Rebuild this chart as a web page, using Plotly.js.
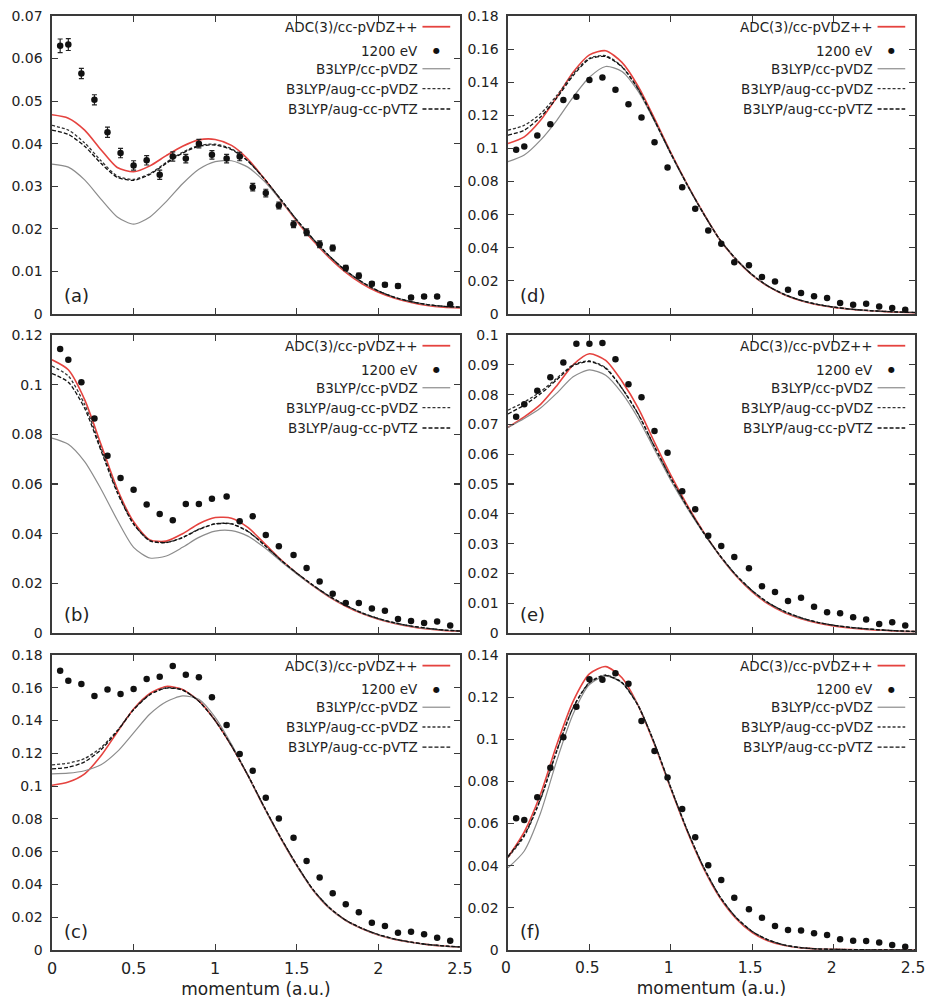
<!DOCTYPE html>
<html>
<head>
<meta charset="utf-8">
<script src="https://cdn.plot.ly/plotly-3.0.1.min.js"></script>
<style>html,body{margin:0;padding:0;background:#fff}#chart{width:927px;height:1001px}</style>
</head>
<body>
<div id="chart"></div>
<script>
// ---- data ----
const momentum = [0.05,0.10,0.18,0.26,0.34,0.42,0.50,0.58,0.66,0.74,0.82,0.90,0.98,1.07,1.15,1.23,1.31,1.39,1.48,1.56,1.64,1.72,1.80,1.88,1.96,2.04,2.12,2.20,2.28,2.36,2.44];
const grid = [0,0.1,0.2,0.3,0.4,0.5,0.6,0.7,0.8,0.9,1.0,1.1,1.2,1.3,1.4,1.5,1.6,1.7,1.8,1.9,2.0,2.1,2.2,2.3,2.4,2.5];
const legendNames = ["ADC(3)/cc-pVDZ++","1200 eV","B3LYP/cc-pVDZ","B3LYP/aug-cc-pVDZ","B3LYP/aug-cc-pVTZ"];
const panelLabels = ["(a)","(b)","(c)","(d)","(e)","(f)"];
const xTicks = [0,0.5,1,1.5,2,2.5];
const xTickText = ["0","0.5","1","1.5","2","2.5"];

// (a)
const expA = [0.0630,0.0633,0.0565,0.0503,0.0427,0.0378,0.0349,0.0361,0.0327,0.0370,0.0365,0.0400,0.0374,0.0365,0.0370,0.0298,0.0284,0.0255,0.0211,0.0192,0.0164,0.0155,0.0108,0.0090,0.0071,0.0069,0.0066,0.0039,0.0041,0.0041,0.0023];
const errA = [0.0016,0.0014,0.0012,0.0012,0.0012,0.0011,0.0011,0.0011,0.0011,0.0011,0.0010,0.0010,0.0010,0.0010,0.0010,0.0009,0.0009,0.0008,0.0008,0.0008,0.0008,0.0007,0.0006,0.0006,0.0005,0.0005,0.0005,0.0004,0.0004,0.0004,0.0003];
const adcA = [0.0468,0.0460,0.0432,0.0386,0.0344,0.0334,0.0348,0.0372,0.0394,0.0409,0.0410,0.0396,0.0364,0.0318,0.0268,0.0218,0.0172,0.0132,0.0098,0.0071,0.0051,0.0037,0.0027,0.0020,0.0016,0.0014];
const vdzA = [0.0352,0.0345,0.0315,0.0270,0.0228,0.0211,0.0228,0.0264,0.0306,0.0340,0.0358,0.0360,0.0345,0.0312,0.0268,0.0220,0.0175,0.0135,0.0101,0.0074,0.0054,0.0039,0.0029,0.0022,0.0018,0.0016];
const augVdzA = [0.0443,0.0432,0.0402,0.0360,0.0324,0.0316,0.0330,0.0356,0.0380,0.0396,0.0399,0.0388,0.0360,0.0318,0.0270,0.0221,0.0176,0.0136,0.0102,0.0075,0.0054,0.0039,0.0029,0.0022,0.0018,0.0016];
const augVtzA = [0.0432,0.0422,0.0394,0.0354,0.0321,0.0314,0.0328,0.0354,0.0378,0.0394,0.0397,0.0386,0.0359,0.0318,0.0270,0.0221,0.0176,0.0136,0.0102,0.0075,0.0054,0.0039,0.0029,0.0022,0.0018,0.0016];

// (b)
const expB = [0.1144,0.1100,0.1010,0.0864,0.0714,0.0624,0.0577,0.0517,0.0479,0.0454,0.0519,0.0519,0.0541,0.0550,0.0450,0.0470,0.0395,0.0349,0.0314,0.0262,0.0207,0.0158,0.0121,0.0121,0.0099,0.0090,0.0056,0.0048,0.0040,0.0046,0.0030];
const adcB = [0.1100,0.1060,0.0940,0.0760,0.0580,0.0448,0.0375,0.0370,0.0400,0.0440,0.0465,0.0462,0.0425,0.0362,0.0297,0.0240,0.0190,0.0145,0.0108,0.0078,0.0055,0.0038,0.0025,0.0016,0.0010,0.0007];
const vdzB = [0.0785,0.0760,0.0690,0.0580,0.0455,0.0345,0.0302,0.0310,0.0345,0.0385,0.0410,0.0412,0.0390,0.0345,0.0290,0.0238,0.0190,0.0146,0.0110,0.0080,0.0057,0.0040,0.0027,0.0018,0.0012,0.0008];
const augVdzB = [0.1075,0.1035,0.0920,0.0745,0.0570,0.0440,0.0372,0.0365,0.0385,0.0418,0.0440,0.0440,0.0410,0.0355,0.0295,0.0241,0.0192,0.0148,0.0111,0.0081,0.0058,0.0041,0.0028,0.0019,0.0012,0.0008];
const augVtzB = [0.1045,0.1010,0.0905,0.0735,0.0565,0.0438,0.0371,0.0364,0.0384,0.0417,0.0439,0.0439,0.0409,0.0355,0.0295,0.0241,0.0192,0.0148,0.0111,0.0081,0.0058,0.0041,0.0028,0.0019,0.0012,0.0008];

// (c)
const expC = [0.1704,0.1643,0.1623,0.1550,0.1590,0.1562,0.1592,0.1653,0.1668,0.1733,0.1680,0.1664,0.1542,0.1373,0.1196,0.1094,0.0929,0.0803,0.0685,0.0543,0.0443,0.0346,0.0279,0.0230,0.0167,0.0146,0.0106,0.0112,0.0096,0.0075,0.0057];
const adcC = [0.1005,0.1025,0.1075,0.1185,0.1330,0.1470,0.1565,0.1608,0.1590,0.1520,0.1400,0.1245,0.1065,0.0870,0.0685,0.0515,0.0365,0.0255,0.0180,0.0130,0.0092,0.0065,0.0047,0.0033,0.0024,0.0018];
const vdzC = [0.1075,0.1079,0.1094,0.1130,0.1210,0.1325,0.1440,0.1515,0.1550,0.1530,0.1420,0.1255,0.1065,0.0870,0.0685,0.0515,0.0365,0.0255,0.0180,0.0130,0.0092,0.0065,0.0047,0.0033,0.0024,0.0018];
const augVdzC = [0.1130,0.1140,0.1168,0.1235,0.1340,0.1468,0.1560,0.1600,0.1588,0.1518,0.1400,0.1245,0.1067,0.0873,0.0688,0.0518,0.0368,0.0258,0.0182,0.0132,0.0094,0.0067,0.0048,0.0034,0.0025,0.0019];
const augVtzC = [0.1105,0.1115,0.1148,0.1222,0.1335,0.1466,0.1558,0.1598,0.1586,0.1517,0.1400,0.1245,0.1067,0.0873,0.0688,0.0518,0.0368,0.0258,0.0182,0.0132,0.0094,0.0067,0.0048,0.0034,0.0025,0.0019];

// (d)
const expD = [0.0992,0.1012,0.1078,0.1146,0.1293,0.1313,0.1414,0.1428,0.1354,0.1267,0.1187,0.1038,0.0885,0.0766,0.0636,0.0505,0.0424,0.0312,0.0294,0.0223,0.0197,0.0147,0.0127,0.0107,0.0097,0.0066,0.0056,0.0062,0.0046,0.0036,0.0026];
const adcD = [0.1030,0.1070,0.1170,0.1310,0.1460,0.1565,0.1590,0.1520,0.1375,0.1180,0.0975,0.0785,0.0610,0.0450,0.0330,0.0235,0.0165,0.0115,0.0080,0.0056,0.0040,0.0029,0.0021,0.0015,0.0011,0.0008];
const vdzD = [0.0920,0.0960,0.1050,0.1170,0.1310,0.1430,0.1495,0.1465,0.1345,0.1165,0.0965,0.0780,0.0607,0.0450,0.0331,0.0237,0.0167,0.0117,0.0082,0.0058,0.0042,0.0030,0.0022,0.0016,0.0012,0.0009];
const augVdzD = [0.1110,0.1140,0.1210,0.1320,0.1450,0.1545,0.1560,0.1495,0.1360,0.1170,0.0970,0.0782,0.0608,0.0451,0.0332,0.0237,0.0167,0.0117,0.0082,0.0058,0.0042,0.0030,0.0022,0.0016,0.0012,0.0009];
const augVtzD = [0.1080,0.1110,0.1190,0.1305,0.1440,0.1540,0.1555,0.1492,0.1358,0.1169,0.0970,0.0782,0.0608,0.0451,0.0332,0.0237,0.0167,0.0117,0.0082,0.0058,0.0042,0.0030,0.0022,0.0016,0.0012,0.0009];

// (e)
const expE = [0.0726,0.0768,0.0813,0.0858,0.0908,0.0971,0.0971,0.0973,0.0919,0.0835,0.0791,0.0678,0.0605,0.0476,0.0415,0.0326,0.0292,0.0255,0.0217,0.0157,0.0138,0.0107,0.0118,0.0088,0.0070,0.0066,0.0053,0.0045,0.0030,0.0036,0.0025];
const adcE = [0.0690,0.0725,0.0767,0.0830,0.0900,0.0937,0.0915,0.0845,0.0755,0.0640,0.0530,0.0430,0.0340,0.0260,0.0192,0.0138,0.0097,0.0068,0.0048,0.0034,0.0024,0.0017,0.0012,0.0009,0.0006,0.0005];
const vdzE = [0.0690,0.0720,0.0755,0.0805,0.0860,0.0883,0.0865,0.0805,0.0720,0.0615,0.0512,0.0420,0.0336,0.0260,0.0194,0.0141,0.0100,0.0071,0.0050,0.0036,0.0026,0.0019,0.0014,0.0010,0.0007,0.0005];
const augVdzE = [0.0748,0.0775,0.0810,0.0855,0.0900,0.0913,0.0890,0.0822,0.0735,0.0625,0.0520,0.0425,0.0338,0.0261,0.0195,0.0142,0.0101,0.0072,0.0051,0.0036,0.0026,0.0019,0.0014,0.0010,0.0007,0.0005];
const augVtzE = [0.0735,0.0765,0.0803,0.0850,0.0897,0.0911,0.0888,0.0821,0.0734,0.0625,0.0520,0.0425,0.0338,0.0261,0.0195,0.0142,0.0101,0.0072,0.0051,0.0036,0.0026,0.0019,0.0014,0.0010,0.0007,0.0005];

// (f)
const expF = [0.0625,0.0617,0.0725,0.0865,0.1010,0.1155,0.1285,0.1282,0.1313,0.1263,0.1087,0.0944,0.0819,0.0669,0.0535,0.0402,0.0332,0.0248,0.0193,0.0153,0.0114,0.0095,0.0092,0.0079,0.0071,0.0051,0.0044,0.0043,0.0035,0.0024,0.0016];
const adcF = [0.0440,0.0560,0.0740,0.0975,0.1180,0.1310,0.1345,0.1292,0.1160,0.0975,0.0765,0.0565,0.0390,0.0250,0.0150,0.0083,0.0043,0.0021,0.0010,0.0005,0.0003,0.0002,0.0001,0.0001,0.0001,0.0001];
const vdzF = [0.0390,0.0470,0.0650,0.0900,0.1120,0.1260,0.1300,0.1268,0.1160,0.0980,0.0770,0.0570,0.0395,0.0255,0.0155,0.0088,0.0047,0.0023,0.0011,0.0005,0.0003,0.0002,0.0001,0.0001,0.0001,0.0001];
const augVdzF = [0.0440,0.0540,0.0715,0.0945,0.1150,0.1270,0.1305,0.1270,0.1160,0.0980,0.0770,0.0570,0.0395,0.0255,0.0155,0.0088,0.0047,0.0023,0.0011,0.0005,0.0003,0.0002,0.0001,0.0001,0.0001,0.0001];
const augVtzF = [0.0445,0.0545,0.0718,0.0947,0.1150,0.1268,0.1303,0.1268,0.1158,0.0980,0.0770,0.0570,0.0395,0.0255,0.0155,0.0088,0.0047,0.0023,0.0011,0.0005,0.0003,0.0002,0.0001,0.0001,0.0001,0.0001];

const yMax = [0.07,0.12,0.18,0.18,0.10,0.14];
const yStep = [0.01,0.02,0.02,0.02,0.01,0.02];

// ---- styling ----
const FONT = "DejaVu Sans, Liberation Sans, Arial, sans-serif";
const RED = "#e5433f";
const GRAY = "#8c8c8c";
const DK1 = "#333333";
const DK2 = "#111111";
const FRAME = "#3a3a3a";

const panels = [
  {exp: expA, err: errA, adc: adcA, vdz: vdzA, avdz: augVdzA, avtz: augVtzA},
  {exp: expB, err: null, adc: adcB, vdz: vdzB, avdz: augVdzB, avtz: augVtzB},
  {exp: expC, err: null, adc: adcC, vdz: vdzC, avdz: augVdzC, avtz: augVtzC},
  {exp: expD, err: null, adc: adcD, vdz: vdzD, avdz: augVdzD, avtz: augVtzD},
  {exp: expE, err: null, adc: adcE, vdz: vdzE, avdz: augVdzE, avtz: augVtzE},
  {exp: expF, err: null, adc: adcF, vdz: vdzF, avdz: augVdzF, avtz: augVtzF}
];

// pixel geometry of the figure (927 x 1001)
const W = 927, H = 1001;
const colX = [[52,460],[508,915]];
const rowY = [[16,314],[335,633],[655,950]];

const data = [];
const layout = {
  width: W, height: H,
  margin: {l:0, r:0, t:0, b:0},
  paper_bgcolor: "#fff", plot_bgcolor: "#fff",
  showlegend: false,
  font: {family: FONT, color: "#222"},
  annotations: [], shapes: []
};

panels.forEach((p, i) => {
  const col = i < 3 ? 0 : 1;
  const row = i % 3;
  const n = i === 0 ? "" : String(i + 1);
  const xa = "x" + n, ya = "y" + n;
  const xd = [colX[col][0]/W, colX[col][1]/W];
  const yd = [1 - rowY[row][1]/H, 1 - rowY[row][0]/H];
  const bottom = row === 2;

  layout["xaxis" + n] = {
    domain: xd, anchor: ya, range: [0, 2.5],
    tickvals: xTicks, ticktext: xTickText,
    showticklabels: bottom, ticklabeloverflow: "allow",
    ticklabelshift: col === 1 ? -2 : 0,
    ticks: "inside", ticklen: 6, tickwidth: 1.2, tickcolor: FRAME,
    showline: true, linecolor: FRAME, linewidth: 1.6, mirror: "allticks",
    showgrid: false, zeroline: false, automargin: false,
    tickfont: {family: FONT, size: col === 1 ? 15.5 : 16, color: "#222"},
    ticklabelstandoff: 3,
    title: bottom ? {text: "momentum (a.u.)", font: {family: FONT, size: 17, color: "#222"}, standoff: 6} : {text: ""}
  };
  layout["yaxis" + n] = {
    domain: yd, anchor: xa, range: [0, yMax[i]],
    dtick: yStep[i], tick0: 0,
    ticks: "inside", ticklen: 6, tickwidth: 1.2, tickcolor: FRAME,
    showline: true, linecolor: FRAME, linewidth: 1.6, mirror: "allticks",
    showgrid: false, zeroline: false, automargin: false,
    tickfont: {family: FONT, size: 14, color: "#222"},
    ticklabelstandoff: 5, ticklabeloverflow: "allow"
  };

  const common = {xaxis: xa, yaxis: ya, type: "scatter", hoverinfo: "skip"};
  const sm = 0.7;
  data.push(Object.assign({}, common, {x: grid, y: p.adc, mode: "lines", line: {color: RED, width: 1.6, shape: "spline", smoothing: sm}}));
  data.push(Object.assign({}, common, {x: grid, y: p.vdz, mode: "lines", line: {color: GRAY, width: 1.2, shape: "spline", smoothing: sm}}));
  data.push(Object.assign({}, common, {x: grid, y: p.avdz, mode: "lines", line: {color: DK1, width: 1.3, dash: "3px,2px", shape: "spline", smoothing: sm}}));
  data.push(Object.assign({}, common, {x: grid, y: p.avtz, mode: "lines", line: {color: DK2, width: 1.3, dash: "4px,2px", shape: "spline", smoothing: sm}}));
  const expTrace = Object.assign({}, common, {x: momentum, y: p.exp, mode: "markers",
    marker: {color: "#111", size: 6.5, line: {width: 0}}});
  if (p.err) {
    expTrace.error_y = {type: "data", array: p.err, visible: true, color: "#222", thickness: 1.2, width: 2.5};
  }
  data.push(expTrace);

  // panel label
  const xdom = xa + " domain", ydom = ya + " domain";
  layout.annotations.push({xref: xdom, yref: ydom, x: 0.024, y: 0.062, xanchor: "left", yanchor: "middle",
    text: panelLabels[i], showarrow: false, font: {family: FONT, size: 18, color: "#222"}});

  // legend (text right-aligned, sample on the right)
  const ly = [0.964, 0.884, 0.823, 0.756, 0.688];
  const tx = 0.902, s0 = 0.908, s1 = 0.976;
  legendNames.forEach((name, k) => {
    layout.annotations.push({xref: xdom, yref: ydom, x: tx, y: ly[k], xanchor: "right", yanchor: "middle",
      text: name, showarrow: false, font: {family: FONT, size: 13.5, color: "#222"}});
  });
  const sample = [
    {color: RED, width: 1.8, dash: "solid"},
    null,
    {color: GRAY, width: 1.2, dash: "solid"},
    {color: DK1, width: 1.3, dash: "3px,2px"},
    {color: DK2, width: 1.3, dash: "4px,2px"}
  ];
  sample.forEach((ln, k) => {
    if (!ln) return;
    layout.shapes.push({type: "line", xref: xdom, yref: ydom, x0: s0, x1: s1, y0: ly[k], y1: ly[k], line: ln});
  });
  layout.annotations.push({xref: xdom, yref: ydom, x: (s0 + s1) / 2, y: ly[1], xanchor: "center", yanchor: "middle",
    text: "●", showarrow: false, font: {family: FONT, size: 8, color: "#111"}});
});

Plotly.newPlot("chart", data, layout, {staticPlot: true, displayModeBar: false});
</script>
</body>
</html>
